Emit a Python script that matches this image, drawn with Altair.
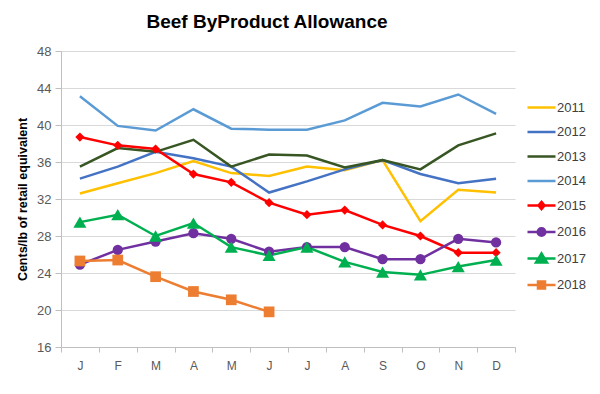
import altair as alt
import pandas as pd

months = ["Jan", "Feb", "Mar", "Apr", "May", "Jun", "Jul", "Aug", "Sep", "Oct", "Nov", "Dec"]
years = ["2011", "2012", "2013", "2014", "2015", "2016", "2017", "2018"]
colors = ["#FFC000", "#4472C4", "#375623", "#5B9BD5", "#FF0000", "#7030A0", "#00B050", "#ED7D31"]

y2011 = [32.6, 33.7, 34.8, 36.1, 34.8, 34.5, 35.5, 35.1, 36.2, 29.6, 33.0, 32.7]
y2012 = [34.2, 35.5, 37.1, 36.4, 35.5, 32.7, 33.9, 35.2, 36.2, 34.7, 33.7, 34.2]
y2013 = [35.5, 37.5, 37.1, 38.4, 35.5, 36.8, 36.7, 35.4, 36.2, 35.2, 37.8, 39.1]
y2014 = [43.1, 39.9, 39.4, 41.7, 39.6, 39.5, 39.5, 40.5, 42.4, 42.0, 43.3, 41.2]
y2015 = [38.7, 37.8, 37.4, 34.7, 33.8, 31.6, 30.3, 30.8, 29.2, 28.0, 26.2, 26.2]
y2016 = [24.9, 26.5, 27.4, 28.3, 27.7, 26.3, 26.8, 26.8, 25.5, 25.5, 27.7, 27.3]
y2017 = [29.5, 30.3, 28.0, 29.4, 26.8, 25.9, 26.8, 25.2, 24.1, 23.8, 24.7, 25.4]
y2018 = [25.3, 25.4, 23.6, 22.0, 21.1, 19.8]

series = [y2011, y2012, y2013, y2014, y2015, y2016, y2017, y2018]
rows = []
for yr, vals in zip(years, series):
    for i, v in enumerate(vals):
        rows.append({"year": yr, "m": months[i], "v": v})
df = pd.DataFrame(rows)

FONT = "Liberation Sans"
color_scale = alt.Scale(domain=years, range=colors)

seg = "M-1.4,0H1.4"
legend_paths = [
    seg, seg, seg, seg,
    seg + "M0,-0.36L0.3,0L0,0.36L-0.3,0Z",
    seg + "M-0.38,0A0.38,0.38 0 1,0 0.38,0A0.38,0.38 0 1,0 -0.38,0Z",
    seg + "M0,-0.5L0.55,0.4L-0.55,0.4Z",
    seg + "M-0.35,-0.35H0.35V0.35H-0.35Z",
]

x_enc = alt.X(
    "m:N", sort=months, bandPosition=0.5,
    scale=alt.Scale(type="band", domain=months, paddingInner=0, paddingOuter=0),
    axis=alt.Axis(
        title=None, labelExpr="substring(datum.label,0,1)", tickBand="extent",
        labelAngle=0, labelFont=FONT, labelFontSize=12, labelColor="#595959",
        labelPadding=8, tickSize=5, tickColor="#BFBFBF", domainColor="#BFBFBF",
        grid=False,
    ),
)
y_enc = alt.Y(
    "v:Q",
    scale=alt.Scale(domain=[16, 48], nice=False, zero=False),
    axis=alt.Axis(
        values=list(range(16, 49, 4)), title="Cents/lb of retail equivalent",
        titleFont=FONT, titleFontSize=12.5, titleFontWeight="bold", titleColor="#000000",
        titleX=-39, titleBaseline="middle",
        labelFont=FONT, labelFontSize=13, labelColor="#595959", labelPadding=4,
        tickSize=6, tickColor="#BFBFBF", domainColor="#BFBFBF",
        grid=True, gridColor="#D9D9D9", gridWidth=1,
    ),
)

base = alt.Chart(df)

lines = base.mark_line(strokeWidth=2.5).encode(
    x=x_enc, y=y_enc,
    color=alt.Color("year:N", scale=color_scale, legend=None),
)

def markers(yr, shape, size):
    return base.transform_filter(alt.datum.year == yr).mark_point(
        shape=shape, filled=True, size=size, opacity=1
    ).encode(
        x=x_enc, y=y_enc,
        color=alt.Color("year:N", scale=color_scale, legend=None),
    )

p2015 = markers("2015", "diamond", 85)
p2016 = markers("2016", "circle", 105)
p2017 = markers("2017", "triangle-up", 170)
p2018 = markers("2018", "square", 115)

leg = alt.Legend(
    title=None, orient="none", legendX=469, legendY=45,
    symbolSize=400, symbolStrokeWidth=2.5, symbolOpacity=1,
    labelFont=FONT, labelFontSize=13, labelColor="#404040",
    labelOffset=4, rowPadding=5.5, padding=0,
)

legend_layer = base.mark_point(
    filled=True, opacity=1, strokeWidth=2.5, size=0
).encode(
    x=x_enc, y=y_enc,
    fill=alt.Fill("year:N", scale=color_scale, legend=leg),
    stroke=alt.Stroke("year:N", scale=color_scale, legend=leg),
    shape=alt.Shape("year:N", scale=alt.Scale(domain=years, range=legend_paths), legend=leg),
)

chart = alt.layer(lines, p2015, p2016, p2017, p2018, legend_layer).resolve_legend(
    color="independent", fill="independent", stroke="independent", shape="independent"
).properties(
    width=454, height=296,
    padding={"left": 53, "top": 43, "right": 77, "bottom": 39},
    autosize=alt.AutoSizeParams(type="none"),
    title=alt.TitleParams(
        "Beef ByProduct Allowance", font=FONT, fontSize=19, fontWeight="bold",
        color="#000000", anchor="middle", dx=-21, offset=13,
    ),
).configure_view(stroke=None)

chart.save("out.html", embed_options={"renderer": "svg", "actions": False})
